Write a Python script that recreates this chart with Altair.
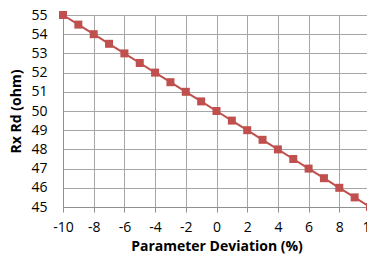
import altair as alt
import pandas as pd

deviation = [-10, -9, -8, -7, -6, -5, -4, -3, -2, -1, 0, 1, 2, 3, 4, 5, 6, 7, 8, 9, 10]
rx_rd = [55, 54.5, 54, 53.5, 53, 52.5, 52, 51.5, 51, 50.5, 50, 49.5, 49, 48.5, 48, 47.5, 47, 46.5, 46, 45.5, 45]
x_ticks = [-10, -8, -6, -4, -2, 0, 2, 4, 6, 8, 10]
y_ticks = [45, 46, 47, 48, 49, 50, 51, 52, 53, 54, 55]

df = pd.DataFrame({"x": deviation, "y": rx_rd})

font = "Open Sans"
red = "#C0504D"
grid = "#A6A6A6"

x_enc = alt.X("x:Q", scale=alt.Scale(domain=[-10, 10], nice=False, zero=False),
              axis=alt.Axis(values=x_ticks, title="Parameter Deviation (%)", grid=True,
                            gridColor=grid, domainColor="#909090", tickColor="#909090",
                            tickSize=5, labelFontSize=14, labelFont=font, labelColor="#000",
                            labelExpr="'' + datum.value",
                            titleFont=font, titleFontSize=14, titleFontWeight="bold",
                            titleColor="#000", labelPadding=8, titlePadding=5,
                            labelFlush=False, labelOverlap=False))
y_enc = alt.Y("y:Q", scale=alt.Scale(domain=[45, 55], nice=False, zero=False),
              axis=alt.Axis(values=y_ticks, title="Rx Rd (ohm)", grid=True,
                            gridColor=grid, domainColor="#909090", tickColor="#909090",
                            tickSize=0, labelFontSize=14, labelFont=font, labelColor="#000",
                            titleFont=font, titleFontSize=14, titleFontWeight="bold",
                            titleColor="#000", labelPadding=16, titlePadding=7,
                            labelFlush=False, labelOverlap=False))

line = alt.Chart(df).mark_line(color=red, strokeWidth=2).encode(x=x_enc, y=y_enc)
pts = alt.Chart(df).mark_square(color=red, size=64, opacity=1).encode(x=x_enc, y=y_enc)

chart = (line + pts).properties(
    width=307, height=192,
    autosize=alt.AutoSizeParams(type="none"),
    padding={"left": 55, "top": 7, "right": -3, "bottom": 50},
).configure_view(stroke=grid).configure(background="white")

chart.save("out.html", embed_options={"renderer": "svg", "actions": False})
